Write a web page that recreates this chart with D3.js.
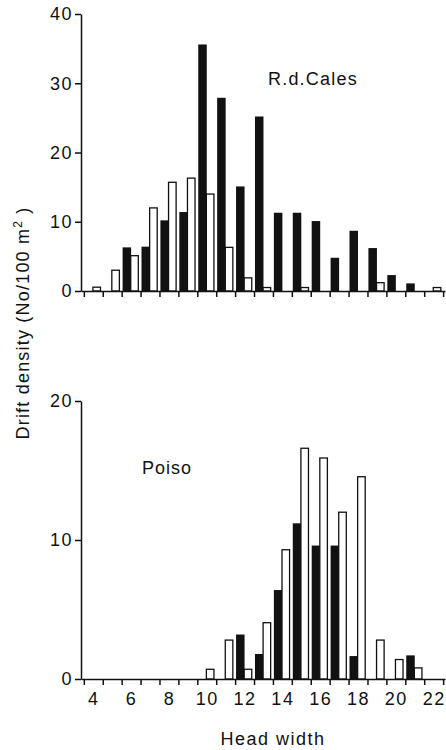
<!DOCTYPE html>
<html>
<head>
<meta charset="utf-8">
<script src="https://cdn.jsdelivr.net/npm/d3@7"></script>
<style>
  body { margin: 0; background: #fff; }
  svg text { font-family: "Liberation Sans", Arial, sans-serif; fill: #111; }
  .axis path, .axis line { stroke: #111; stroke-width: 1.5; }
  .axis text { font-size: 18px; letter-spacing: 1.5px; }
</style>
</head>
<body>
<div class="graph"><svg></svg></div>
<script>
// head width classes (bin centres)
const bins = [4, 5, 6, 7, 8, 9, 10, 11, 12, 13, 14, 15, 16, 17, 18, 19, 20, 21, 22]
// R.d.Cales drift density, black and open bars
const calesBlack = [0, 0, 6.3, 6.4, 10.2, 11.4, 35.6, 27.9, 15.1, 25.2, 11.3, 11.3, 10.1, 4.8, 8.7, 6.2, 2.3, 1.1, 0]
const calesWhite = [0.55, 3.0, 5.1, 12.0, 15.7, 16.3, 14.0, 6.3, 1.9, 0.5, 0, 0.5, 0, 0, 0, 1.2, 0, 0, 0.5]
// Poiso drift density
const poisoBlack = [0, 0, 0, 0, 0, 0, 0, 0, 3.2, 1.8, 6.4, 11.2, 9.6, 9.6, 1.65, 0, 0, 1.7, 0]
const poisoWhite = [0, 0, 0, 0, 0, 0, 0.7, 2.8, 0.7, 4.05, 9.3, 16.6, 15.9, 12.0, 14.55, 2.8, 1.4, 0.8, 0]
// tick labels
const calesYTicks = [0, 10, 20, 30, 40]
const poisoYTicks = [0, 10, 20]
const xLabels = [4, 6, 8, 10, 12, 14, 16, 18, 20, 22]

const svg = d3.select('svg').attr('width', 446).attr('height', 750)

const x = d3.scaleLinear().domain([3.35, 22.6]).range([81, 445])
const binEdges = bins.map(b => b - 0.5).concat([22.5])

/**
 * Draws one histogram panel with its axes.
 */
function drawPanel (yScale, yTicks, black, white, showLabels) {
  const g = svg.append('g')

  // black bars, left half of each class
  g.selectAll('rect.black')
    .data(bins.map((b, i) => ({ b, v: black[i] })).filter(d => d.v > 0))
    .enter().append('rect')
    .attr('class', 'black')
    .attr('x', d => x(d.b - 0.45))
    .attr('width', d => x(d.b) - x(d.b - 0.45))
    .attr('y', d => yScale(d.v))
    .attr('height', d => yScale(0) - yScale(d.v))
    .attr('fill', '#111')

  // open bars, right half
  g.selectAll('rect.white')
    .data(bins.map((b, i) => ({ b, v: white[i] })).filter(d => d.v > 0))
    .enter().append('rect')
    .attr('class', 'white')
    .attr('x', d => x(d.b - 0.02))
    .attr('width', d => x(d.b + 0.38) - x(d.b - 0.02))
    .attr('y', d => yScale(d.v))
    .attr('height', d => yScale(0) - yScale(d.v))
    .attr('fill', '#fff')
    .attr('stroke', '#111')
    .attr('stroke-width', 1.3)

  g.append('g')
    .attr('class', 'x axis')
    .attr('transform', 'translate(0,' + yScale(0) + ')')
    .call(d3.axisBottom(x).tickValues(binEdges).tickSize(6).tickSizeOuter(0).tickFormat(''))

  if (showLabels) {
    g.append('g')
      .attr('class', 'x axis labels')
      .attr('transform', 'translate(0,' + yScale(0) + ')')
      .call(d3.axisBottom(x).tickValues(xLabels).tickSize(0).tickPadding(13).tickFormat(d3.format('d')))
      .call(a => a.select('.domain').remove())
  }

  g.append('g')
    .attr('class', 'y axis')
    .attr('transform', 'translate(' + x(3.35) + ',0)')
    .call(d3.axisLeft(yScale).tickValues(yTicks).tickSize(6).tickSizeOuter(0).tickPadding(2))
}

const yTop = d3.scaleLinear().domain([0, 40]).range([291, 14])
const yBottom = d3.scaleLinear().domain([0, 20]).range([679, 401])

drawPanel(yTop, calesYTicks, calesBlack, calesWhite, false)
drawPanel(yBottom, poisoYTicks, poisoBlack, poisoWhite, true)

svg.append('text')
  .attr('x', 268).attr('y', 84.5)
  .attr('font-size', 18).attr('letter-spacing', 1.2)
  .text('R.d.Cales')

svg.append('text')
  .attr('x', 142).attr('y', 473.5)
  .attr('font-size', 18).attr('letter-spacing', 1)
  .text('Poiso')

svg.append('text')
  .attr('x', 273).attr('y', 744.5)
  .attr('text-anchor', 'middle')
  .attr('font-size', 18).attr('letter-spacing', 1.5)
  .text('Head width')

const yLab = svg.append('text')
  .attr('transform', 'translate(28.5,323) rotate(-90)')
  .attr('text-anchor', 'middle')
  .attr('font-size', 18).attr('letter-spacing', 1.2)
yLab.append('tspan').text('Drift density (No/100 m')
yLab.append('tspan').attr('font-size', 12).attr('dy', -7).text('2')
yLab.append('tspan').attr('dy', 7).text(' )')
</script>
</body>
</html>
